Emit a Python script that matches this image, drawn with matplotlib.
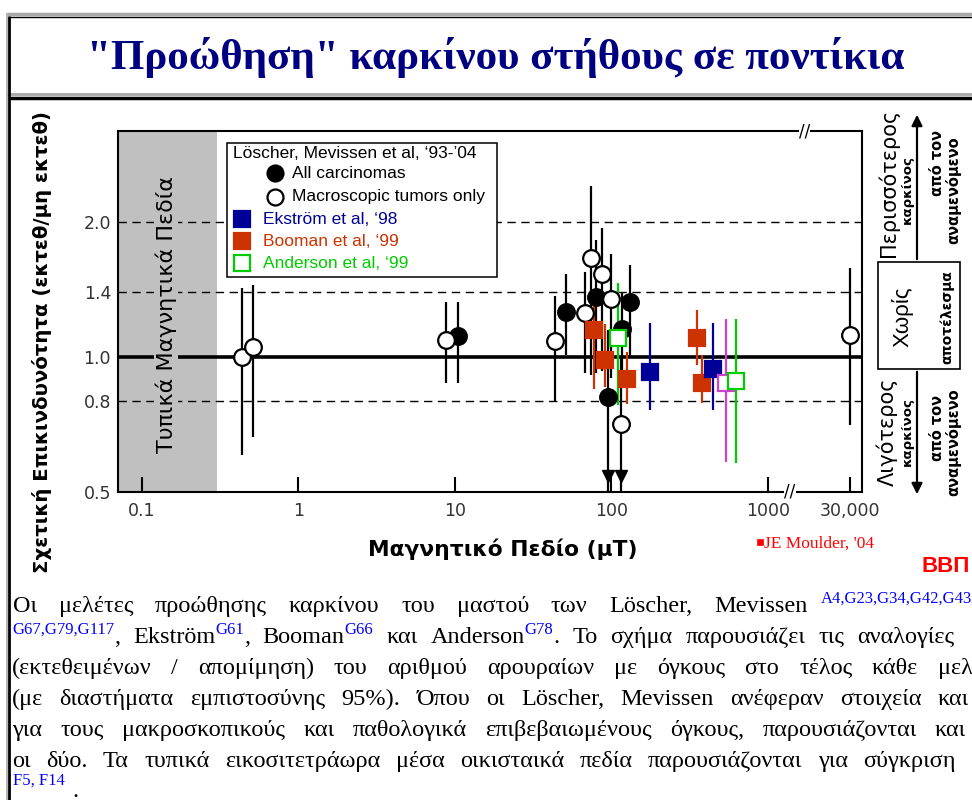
import numpy as np
import matplotlib
matplotlib.use('Agg')
import matplotlib.pyplot as plt
import matplotlib.transforms as mtransforms
from matplotlib.lines import Line2D
from matplotlib.patches import Rectangle, FancyArrowPatch
from matplotlib.ticker import NullLocator

W, H = 972, 800

# relative risk (exposed / sham) with 95% CI, field in µT
# Löscher, Mevissen et al -- all carcinomas
all_x = [10.5, 51, 80, 95.5, 117, 131]
all_rr = [1.114, 1.262, 1.363, 0.815, 1.159, 1.325]
all_lo = [0.874, 1.01, 0.92, 0.30, 0.88, 0.995]
all_hi = [1.329, 1.53, 1.825, 1.15, 1.40, 1.605]

# Löscher, Mevissen et al -- macroscopic tumors only
mac_x = [0.437, 0.514, 8.77, 43.4, 67.8, 74, 86.5, 98.9, 115, 30000]
mac_rr = [1.0, 1.054, 1.095, 1.087, 1.258, 1.666, 1.53, 1.347, 0.711, 1.12]
mac_lo = [0.604, 0.664, 0.874, 0.795, 0.921, 0.912, 0.93, 0.90, 0.30, 0.705]
mac_hi = [1.426, 1.448, 1.329, 1.368, 1.55, 2.41, 1.944, 1.70, 1.0, 1.58]

ekstrom_x = [176, 446]
ekstrom_rr = [0.927, 0.939]
ekstrom_lo = [0.762, 0.762]
ekstrom_hi = [1.193, 1.193]

booman_x = [77.3, 90.8, 125, 350, 378]
booman_rr = [1.149, 0.988, 0.896, 1.106, 0.878]
booman_lo = [0.851, 0.858, 0.788, 0.96, 0.791]
booman_hi = [1.387, 1.189, 1.028, 1.273, 1.01]

anderson_x = [110, 627]
anderson_rr = [1.106, 0.885]
anderson_lo = [0.781, 0.579]
anderson_hi = [1.461, 1.214]

# second Anderson group (magenta)
anderson2_x = [537]
anderson2_rr = [0.876]
anderson2_lo = [0.584]
anderson2_hi = [1.214]

x_ticks = [0.1, 1, 10, 100, 1000, 30000]
x_labels = ['0.1', '1', '10', '100', '1000', '30,000']
y_ticks = [0.5, 0.8, 1.0, 1.4, 2.0]
y_labels = ['0.5', '0.8', '1.0', '1.4', '2.0']
ref_lines = [0.8, 1.4, 2.0]
typical_field = 0.3

BLUE = '#000099'
ORANGE = '#cc3300'
GREEN = '#00cc00'
MAGENTA = '#d040d0'
SANS = 'Liberation Sans'
VERD = 'DejaVu Sans'
SERIF = 'Liberation Serif'

title = '"Προώθηση" καρκίνου στήθους σε ποντίκια'
body = [
    "Οι μελέτες προώθησης καρκίνου του μαστού των Löscher, Mevissen",
    None,
    "(εκτεθειμένων / απομίμηση) του αριθμού αρουραίων με όγκους στο τέλος κάθε μελέτης",
    "(με διαστήματα εμπιστοσύνης 95%). Όπου οι Löscher, Mevissen ανέφεραν στοιχεία και",
    "για τους μακροσκοπικούς και παθολογικά επιβεβαιωμένους όγκους, παρουσιάζονται και",
    "οι δύο. Τα τυπικά εικοσιτετράωρα μέσα οικισταικά πεδία παρουσιάζονται για σύγκριση",
]


def fx(p):
    return p / W


def fy(p):
    return 1 - p / H


# broken log axis: above BRK the decades are squeezed
BRK = 1400.0
K = 0.284


def fwd(x):
    x = np.asarray(x, dtype=float)
    lx = np.log10(np.clip(x, 1e-12, None))
    lb = np.log10(BRK)
    return np.where(lx <= lb, lx, lb + K * (lx - lb))


def inv(u):
    u = np.asarray(u, dtype=float)
    lb = np.log10(BRK)
    with np.errstate(over='ignore'):
        return np.where(u <= lb, 10.0 ** u, 10.0 ** (lb + (u - lb) / K))


fig = plt.figure(figsize=(9.72, 8.0), dpi=100)
fig.patch.set_facecolor('white')

ax = fig.add_axes([fx(118), fy(492), fx(744), 361 / H])
ax.set_xscale('function', functions=(fwd, inv))
ax.set_yscale('log')
ax.set_xlim(0.0703, 56000)
ax.set_ylim(0.5, 3.2)

ax.axvspan(0.0703, typical_field, color='#c0c0c0', lw=0, zorder=0)
for v in ref_lines:
    ax.axhline(v, color='black', lw=1.0, ls=(0, (6, 4)), zorder=1)
ax.axhline(1.0, color='black', lw=2.6, zorder=1)

ax.text(0.142, 1.247, 'Τυπικά Μαγνητικά Πεδία', rotation=90, ha='center', va='center',
        fontsize=16, family=VERD, color='black', zorder=2,
        bbox=dict(fc='#c0c0c0', ec='none', pad=1))


def series(xs, rr, lo, hi, color, marker, face, edge, ms):
    ax.vlines(xs, lo, hi, color=color, lw=1.6, zorder=3)
    ax.plot(xs, rr, ls='none', marker=marker, ms=ms, mfc=face, mec=edge, mew=1.6, zorder=4)


series(all_x, all_rr, all_lo, all_hi, 'black', 'o', 'black', 'black', 12)
series(mac_x, mac_rr, mac_lo, mac_hi, 'black', 'o', 'white', 'black', 12)
series(booman_x, booman_rr, booman_lo, booman_hi, ORANGE, 's', ORANGE, ORANGE, 11.5)
series(ekstrom_x, ekstrom_rr, ekstrom_lo, ekstrom_hi, BLUE, 's', BLUE, BLUE, 11.5)
series(anderson2_x, anderson2_rr, anderson2_lo, anderson2_hi, MAGENTA, 's', 'white', MAGENTA, 11.5)
series(anderson_x, anderson_rr, anderson_lo, anderson_hi, GREEN, 's', 'white', GREEN, 11.5)

# lower limits that run off the bottom of the scale
ymin = ax.get_ylim()[0]
off_x = [x for x, l in zip(all_x + mac_x, all_lo + mac_lo) if l < ymin]
btr = mtransforms.blended_transform_factory(ax.transData, ax.transAxes)
ax.plot(off_x, [0.045] * len(off_x), ls='none', marker='v', ms=8, color='black',
        transform=btr, zorder=5)

ax.set_xticks(x_ticks)
ax.set_xticklabels(x_labels)
ax.xaxis.set_minor_locator(NullLocator())
ax.set_yticks(y_ticks)
ax.set_yticklabels(y_labels)
ax.yaxis.set_minor_locator(NullLocator())
ax.tick_params(axis='x', direction='in', length=11, width=1.5, pad=7,
               labelsize=12.5, labelcolor='#333333')
ax.tick_params(axis='y', length=0, pad=5, labelsize=12.5, labelcolor='#333333')
for lab in ax.get_xticklabels() + ax.get_yticklabels():
    lab.set_family(VERD)
for s in ax.spines.values():
    s.set_linewidth(1.5)

# axis break marks
for xb, yb in [(1384, 0.0), (2900, 1.0)]:
    ax.text(xb, yb, '//', transform=btr, ha='center', va='center', fontsize=12,
            family=VERD, clip_on=False, zorder=6,
            bbox=dict(fc='white', ec='none', pad=0))

# legend box
fig.add_artist(Rectangle((fx(227), fy(277)), fx(270), 134 / H, transform=fig.transFigure,
                         fc='white', ec='black', lw=1.1, zorder=5))
leg_kw = dict(fontsize=12.5, family=SANS, va='center', zorder=6)
fig.text(fx(233), fy(153), 'Löscher, Mevissen et al, ‘93-’04', color='black', **leg_kw)
legend_rows = [
    (275, 173, 'o', 'black', 'black', 'All carcinomas', 'black', 292),
    (275, 197, 'o', 'white', 'black', 'Macroscopic tumors only', 'black', 292),
    (242, 219, 's', BLUE, BLUE, 'Ekström et al, ‘98', BLUE, 263),
    (242, 241, 's', ORANGE, ORANGE, 'Booman et al, ‘99', ORANGE, 263),
    (242, 263, 's', 'white', GREEN, 'Anderson et al, ‘99', GREEN, 263),
]
for mx, my, mk, mf, me, lab, tc, tx in legend_rows:
    fig.add_artist(Line2D([fx(mx)], [fy(my)], transform=fig.transFigure, ls='none',
                          marker=mk, ms=11.5, mfc=mf, mec=me, mew=1.6, zorder=6))
    fig.text(fx(tx), fy(my), lab, color=tc, **leg_kw)

# axis labels
fig.text(fx(42), fy(342), 'Σχετική Επικινδυνότητα (εκτεθ/μη εκτεθ)', rotation=90,
         ha='center', va='center', fontsize=14.2, weight='bold', family=VERD)
fig.text(fx(503), fy(549), 'Μαγνητικό Πεδίο (μT)', ha='center', va='center',
         fontsize=15.7, weight='bold', family=VERD)

# right-hand scale: more / no effect / less cancer
fig.add_artist(FancyArrowPatch((fx(917), fy(262)), (fx(917), fy(112)), transform=fig.transFigure,
                               arrowstyle='-|>', mutation_scale=16, lw=1.6, color='black'))
fig.add_artist(FancyArrowPatch((fx(917), fy(369)), (fx(917), fy(497)), transform=fig.transFigure,
                               arrowstyle='-|>', mutation_scale=16, lw=1.6, color='black'))
fig.add_artist(Rectangle((fx(878), fy(369)), fx(82), 107 / H, transform=fig.transFigure,
                         fc='white', ec='black', lw=1.2))
side = [
    (888, 183, 'Περισσότερος', 15, 'normal', VERD),
    (907.5, 190, 'καρκίνος', 9.5, 'bold', VERD),
    (937, 163, 'από τον', 10.5, 'bold', VERD),
    (953, 190, 'αναμενόμενο', 10.5, 'bold', VERD),
    (902, 317, 'Χωρίς', 16, 'normal', SANS),
    (947, 317, 'αποτέλεσμα', 10, 'bold', VERD),
    (887, 432, 'Λιγότερος', 15, 'normal', VERD),
    (907.5, 432, 'καρκίνος', 9.5, 'bold', VERD),
    (937, 428, 'από τον', 10.5, 'bold', VERD),
    (953, 442, 'αναμενόμενο', 10.5, 'bold', VERD),
]
for sx, sy, st, sz, sw, sf in side:
    fig.text(fx(sx), fy(sy), st, rotation=90, ha='center', va='center',
             fontsize=sz, weight=sw, family=sf)

# credit
fig.add_artist(Rectangle((fx(757), fy(545)), fx(6), 6 / H, transform=fig.transFigure,
                         fc='#ff0000', ec='#ff0000', lw=0.5))
fig.text(fx(764), fy(548), "JE Moulder, '04", color='#ff0000', fontsize=12.5,
         family=SERIF, va='baseline')
fig.text(fx(970), fy(567), 'ΒΒΠ', color='#ff0000', fontsize=16, weight='bold',
         family=SANS, ha='right', va='center')


# slide frame
def hline(y, x0, x1, c, lw):
    fig.add_artist(Line2D([fx(x0), fx(x1)], [fy(y), fy(y)], transform=fig.transFigure,
                          color=c, lw=lw, solid_capstyle='butt'))


def vline(x, y0, y1, c, lw):
    fig.add_artist(Line2D([fx(x), fx(x)], [fy(y0), fy(y1)], transform=fig.transFigure,
                          color=c, lw=lw, solid_capstyle='butt'))


hline(14, 7, W, '#a8a8a8', 2.5)
hline(17, 9, W, 'black', 1.0)
hline(94, 7, W, '#a8a8a8', 2.0)
hline(98, 9, W, 'black', 2.5)
vline(6.5, 13, H, '#a8a8a8', 1.2)
vline(9, 16, H, 'black', 2.0)

fig.text(fx(496), fy(57), title, ha='center', va='center', fontsize=31,
         weight='bold', family=SERIF, color='#000080')

# body paragraph (justified lines)
renderer = fig.canvas.get_renderer()
BODY = 17.5
SUP = 12
SUP_RISE = 9
LINK = '#0000ff'


def put(x, y, s, size=BODY, color='black'):
    return fig.text(fx(x), fy(y), s, fontsize=size, family=SERIF, color=color, va='baseline')


def justify(groups, x0, x_last, y):
    # groups: words separated by stretchable gaps; each is a list of (text, is_sup)
    placed = []
    widths = []
    for g in groups:
        parts = []
        w = 0.0
        for s, sup in g:
            t = put(0, y - SUP_RISE if sup else y, s, SUP if sup else BODY,
                    LINK if sup else 'black')
            pw = t.get_window_extent(renderer).width
            parts.append((t, w))
            w += pw
        placed.append(parts)
        widths.append(w)
    gap = (x_last - x0 - sum(widths[:-1])) / (len(groups) - 1)
    x = x0
    for parts, w in zip(placed, widths):
        for t, off in parts:
            t.set_x(fx(x + off))
        x += w + gap


def words(line):
    return [[(w, False)] for w in line.split()]


justify(words(body[0]), 13, 714, 612)
put(821, 603, 'A4,G23,G34,G42,G43,G44', SUP, LINK)

line2 = [
    [('G67,G79,G117', True), (',', False)],
    [('Ekström', False), ('G61', True), (',', False)],
    [('Booman', False), ('G66', True)],
    [('και', False)],
    [('Anderson', False), ('G78', True), ('.', False)],
    [('Το', False)],
    [('σχήμα', False)],
    [('παρουσιάζει', False)],
    [('τις', False)],
    [('αναλογίες', False)],
]
justify(line2, 12, 857, 643)

justify(words(body[2]), 12, 938, 674)
justify(words(body[3]), 12, 938, 705)
justify(words(body[4]), 12, 935, 736)
justify(words(body[5]), 12, 863, 767)
put(13, 785, 'F5, F14', SUP, LINK)
put(72, 797, '.', BODY)

fig.savefig('out.png', dpi=100)
